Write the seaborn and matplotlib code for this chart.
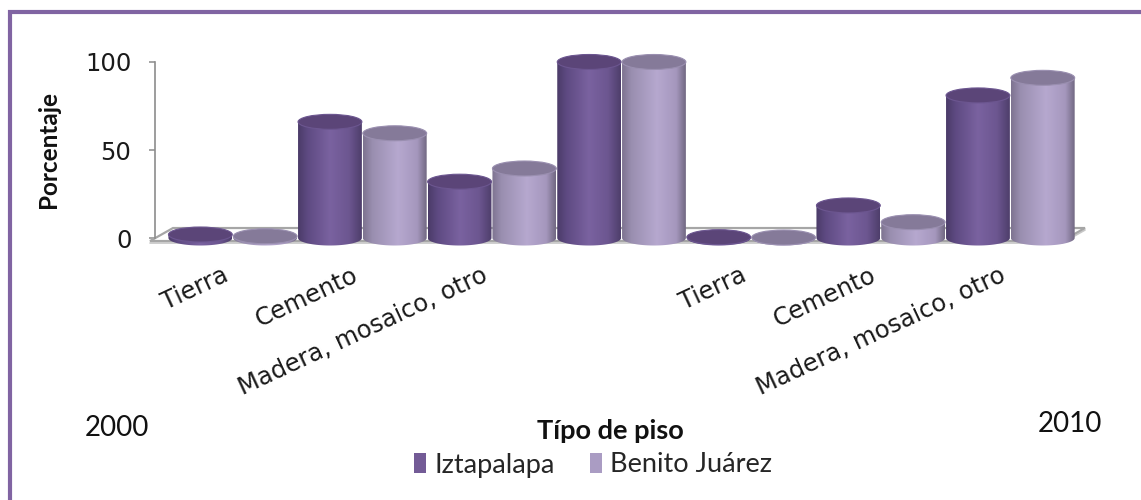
import numpy as np
import pandas as pd
import matplotlib
matplotlib.use("Agg")
import matplotlib.pyplot as plt
import seaborn as sns
from matplotlib.patches import Ellipse, Polygon, Rectangle, PathPatch, Patch
from matplotlib.path import Path
from matplotlib.colors import LinearSegmentedColormap
from matplotlib.transforms import ScaledTranslation

# ---- data -------------------------------------------------------------
slots = [0, 1, 2, 3, 4, 5, 6]
tick_labels = ["Tierra", "Cemento", "Madera, mosaico, otro", "",
               "Tierra", "Cemento", "Madera, mosaico, otro"]
series = ["Iztapalapa", "Benito Juárez"]
iztapalapa = [2, 66, 32, 100, 0.5, 18.5, 81]
benito_juarez = [1, 59.5, 39.5, 100, 0.3, 9, 91]
years = ["2000", "2010"]
y_ticks = [0, 50, 100]

df = pd.DataFrame({
    "slot": slots * 2,
    "serie": [series[0]] * len(slots) + [series[1]] * len(slots),
    "valor": iztapalapa + benito_juarez,
})

# ---- styling ----------------------------------------------------------
sns.set_theme(style="white")
plt.rcParams["font.family"] = ["DejaVu Sans"]

W, H = 1141, 500
fig = plt.figure(figsize=(W / 100, H / 100), dpi=100)
fig.patch.set_facecolor("white")

ax_left, ax_right = 155, 1090
ax_top, ax_bottom = 50, 250
ax = fig.add_axes([ax_left / W, 1 - ax_bottom / H,
                   (ax_right - ax_left) / W, (ax_bottom - ax_top) / H])

legend_colors = {"Iztapalapa": "#735b96", "Benito Juárez": "#aa9cc3"}
sns.barplot(data=df, x="slot", y="valor", hue="serie", hue_order=series,
            palette=legend_colors, width=1.0, saturation=1, ax=ax)
if ax.get_legend() is not None:
    ax.get_legend().remove()

ax.set_xlim(-0.6, -0.6 + (ax_right - ax_left) / 129.6)
ax.set_ylim(-6.8, 106.8)

# cylinder shading: dark edges, lighter band left of centre
side_cmaps = {
    "Iztapalapa": LinearSegmentedColormap.from_list(
        "izt", [(0, "#4b3b68"), (0.15, "#5e4a82"), (0.5, "#7a62a0"),
                (0.8, "#6c5690"), (1, "#4e3e6b")]),
    "Benito Juárez": LinearSegmentedColormap.from_list(
        "bj", [(0, "#7d7390"), (0.15, "#9a8fb0"), (0.55, "#b6a8cf"),
               (0.85, "#a597bd"), (1, "#716882")]),
}
top_colors = {"Iztapalapa": "#5b4578", "Benito Juárez": "#857a99"}
top_edges = {"Iztapalapa": "#6c5690", "Benito Juárez": "#9a8fb0"}

ell_h = 8.5          # ellipse height in data units
grad = np.linspace(0, 1, 256)[None, :]

bars = []
for serie, container in zip(series, ax.containers):
    for p in container.patches:
        bars.append((p.get_x(), serie, p))
bars.sort(key=lambda b: b[0])

for k, (x0, serie, p) in enumerate(bars):
    w = p.get_width() * 0.985
    cx = p.get_x() + p.get_width() / 2
    h = p.get_height()
    p.set_visible(False)
    z = 3 + k * 0.01
    l, r = cx - w / 2, cx + w / 2
    # outline: straight sides, rounded bottom
    t = np.linspace(np.pi, 2 * np.pi, 40)
    verts = [(l, h), (l, 0)]
    verts += [(cx + (w / 2) * np.cos(a), (ell_h / 2) * np.sin(a)) for a in t]
    verts += [(r, h), (l, h)]
    codes = [Path.MOVETO] + [Path.LINETO] * (len(verts) - 2) + [Path.CLOSEPOLY]
    clip = PathPatch(Path(verts, codes), transform=ax.transData,
                     facecolor="none", edgecolor="none")
    ax.add_patch(clip)
    im = ax.imshow(grad, extent=[l, r, -ell_h / 2, h], aspect="auto",
                   cmap=side_cmaps[serie], zorder=z, interpolation="bilinear")
    im.set_clip_path(clip)
    ax.add_patch(Ellipse((cx, h), w, ell_h, angle=0, facecolor=top_colors[serie],
                         edgecolor=top_edges[serie], lw=0.8, zorder=z + 0.005))

ax.set_xlim(-0.6, -0.6 + (ax_right - ax_left) / 129.6)
ax.set_ylim(-6.8, 106.8)

# floor of the chart
def px(xp, yp):
    return ((xp - ax_left) / 129.6 - 0.6, (238 - yp) / 1.76)

floor = [px(150, 241), px(1062, 241), px(1085, 228), px(173, 228)]
ax.add_patch(Polygon(floor, closed=True, facecolor="white",
                     edgecolor="#a6a6a6", lw=1.6, zorder=1, clip_on=False))
floor2 = [px(150, 243), px(1062, 243), px(1085, 230)]
ax.add_line(plt.Line2D([a for a, _ in floor2], [b for _, b in floor2],
                       color="#c8c8c8", lw=1.2, zorder=0.9, clip_on=False))

# axes decoration
for s in ["top", "right", "bottom"]:
    ax.spines[s].set_visible(False)
ax.spines["left"].set_bounds(0, 100)
ax.spines["left"].set_color("#8c8c8c")
ax.spines["left"].set_linewidth(1.2)
ax.set_yticks(y_ticks)
ax.set_yticklabels([str(v) for v in y_ticks], fontsize=17.5, color="#1a1a1a")
ax.tick_params(axis="y", left=True, length=4, width=1.1, color="#8c8c8c", pad=13)
ax.set_xticks(slots)
ax.set_xticklabels(tick_labels, rotation=25, ha="right", va="center",
                   rotation_mode="anchor", fontsize=17.5, color="#1a1a1a")
ax.tick_params(axis="x", bottom=False, length=0, pad=17)
for lbl in ax.get_xticklabels():
    lbl.set_transform(lbl.get_transform() + ScaledTranslation(-0.06, 0, fig.dpi_scale_trans))
ax.set_xlabel("")
ax.set_ylabel("")
ax.grid(False)
ax.set_facecolor("none")

# titles and annotations
lato = ["Lato", "DejaVu Sans"]
fig.text(48 / W, 1 - 150 / H, "Porcentaje", rotation=90, ha="center", va="center",
         fontsize=17.5, fontweight="bold", family=lato, color="#111111")
fig.text(117 / W, 1 - 428 / H, years[0], ha="center", va="center",
         fontsize=20, family=lato, color="#111111")
fig.text(1070 / W, 1 - 424 / H, years[1], ha="center", va="center",
         fontsize=20, family=lato, color="#111111")
fig.text(610 / W, 1 - 431 / H, "Típo de piso", ha="center", va="center",
         fontsize=19.5, fontweight="bold", family=lato, color="#111111")

handles = [Patch(facecolor=legend_colors[s], edgecolor="none", label=s) for s in series]
fig.legend(handles=handles, loc="center", bbox_to_anchor=(593 / W, 1 - 465 / H),
           ncol=2, frameon=False, handlelength=0.45, handleheight=0.75,
           handletextpad=0.3, columnspacing=1.3,
           prop={"family": lato, "size": 19.5})

# outer frame
fig.add_artist(Rectangle((10 / W, -0.5), 1.5, 0.5 + 1 - 11.5 / H,
                         transform=fig.transFigure, fill=False,
                         edgecolor="#8064a2", lw=3, clip_on=False))

fig.savefig("out.png", dpi=100)
